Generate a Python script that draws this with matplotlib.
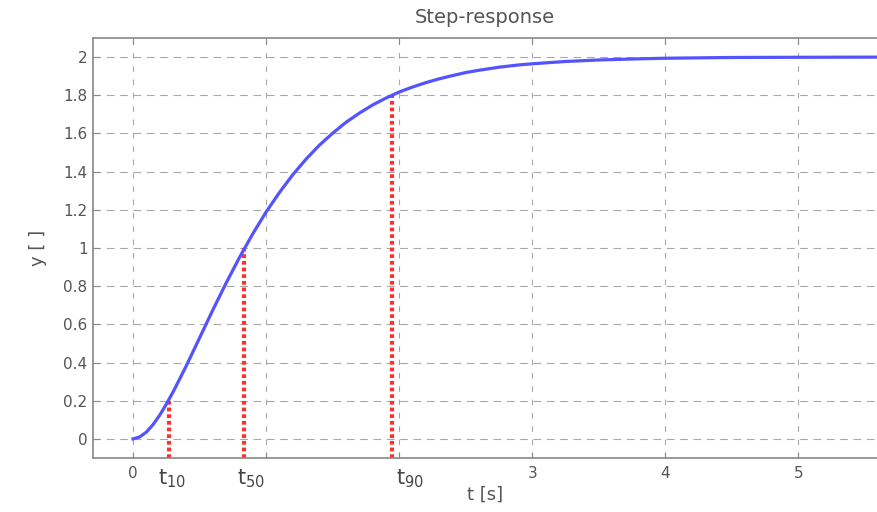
import matplotlib
matplotlib.use("Agg")
import matplotlib.pyplot as plt

# --- data ---
t_vals = [0.0, 0.05, 0.1, 0.15, 0.2, 0.25, 0.3, 0.35, 0.4, 0.45, 0.5, 0.6, 0.7,
          0.8, 0.9, 1.0, 1.1, 1.2, 1.3, 1.4, 1.5, 1.6, 1.7, 1.8, 1.9, 2.0,
          2.1, 2.2, 2.3, 2.4, 2.5, 2.6, 2.75, 2.9, 3.0, 3.25, 3.5, 3.75, 4.0,
          4.5, 5.0, 5.7]
y_vals = [0.0, 0.01, 0.035, 0.074, 0.123, 0.181, 0.244, 0.312, 0.382, 0.455,
          0.528, 0.675, 0.816, 0.950, 1.074, 1.188, 1.290, 1.383, 1.465, 1.538,
          1.601, 1.658, 1.706, 1.749, 1.785, 1.817, 1.843, 1.866, 1.886, 1.903,
          1.919, 1.931, 1.947, 1.959, 1.965, 1.977, 1.985, 1.990, 1.994, 1.998,
          1.999, 2.0]

mark_t = [0.27, 0.835, 1.945]
mark_y = [0.2, 1.0, 1.8]
mark_labels = [r"$\mathrm{t}_{10}$", r"$\mathrm{t}_{50}$", r"$\mathrm{t}_{90}$"]

x_ticks = [0, 1, 2, 3, 4, 5]
x_tick_labels = ["0", "", "", "3", "4", "5"]
y_ticks = [0, 0.2, 0.4, 0.6, 0.8, 1, 1.2, 1.4, 1.6, 1.8, 2]
y_tick_labels = ["0", "0.2", "0.4", "0.6", "0.8", "1", "1.2", "1.4", "1.6", "1.8", "2"]

title = "Step-response"
xlabel = "t [s]"
ylabel = "y [ ]"

# --- style ---
plt.rcParams["font.family"] = ["DejaVu Sans"]
plt.rcParams["mathtext.fontset"] = "dejavusans"
txt_color = "#555555"

fig = plt.figure(figsize=(8.77, 5.12), dpi=100)
ax = fig.add_axes([93 / 877, 54 / 512, 1 - 93 / 877, (458 - 38) / 512])

ax.set_xlim(-0.3, 5.59)
ax.set_ylim(-0.1, 2.1)

ax.grid(True, axis="y", color="#a8a8a8", linestyle=(0, (7, 5)), linewidth=0.8)
ax.grid(True, axis="x", color="#a8a8a8", linestyle=(0, (5, 7)), linewidth=0.8)
ax.set_axisbelow(True)

ax.plot(t_vals, y_vals, color="#5353ff", linewidth=2.3, zorder=3)
for tm, ym in zip(mark_t, mark_y):
    ax.plot([tm, tm], [-0.1, ym], color="#ff3030", linewidth=3.0,
            linestyle=(0, (0.9, 0.7)), zorder=2)

ax.set_xticks(x_ticks)
ax.set_xticklabels(x_tick_labels)
ax.set_yticks(y_ticks)
ax.set_yticklabels(y_tick_labels)
ax.tick_params(direction="in", length=4, color="#888888", labelcolor=txt_color,
               labelsize=11, top=True, right=False, width=0.8)
ax.tick_params(axis="x", pad=6)
ax.tick_params(axis="y", pad=4)

for s in ["left", "bottom", "top"]:
    ax.spines[s].set_color("#888888")
    ax.spines[s].set_linewidth(1.2)
ax.spines["right"].set_visible(False)

offsets = [-0.08, -0.05, 0.03]
for tm, lab, off in zip(mark_t, mark_labels, offsets):
    ax.text(tm + off, -0.15, lab, transform=ax.transData, ha="left", va="top",
            fontsize=15, color="#444444", clip_on=False)

ax.set_title(title, color=txt_color, fontsize=14, pad=11)
ax.set_xlabel(xlabel, color=txt_color, fontsize=13, labelpad=3)
ax.set_ylabel(ylabel, color=txt_color, fontsize=13, labelpad=12)

fig.savefig("out.png", dpi=100)
